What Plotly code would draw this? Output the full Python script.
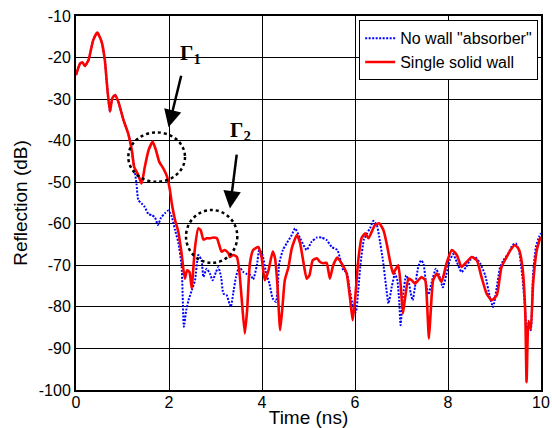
import plotly.graph_objects as go

# Time axis (ns) and reflection (dB) for the single solid wall case
wall_t = [0, 0.09, 0.14, 0.19, 0.27, 0.37, 0.46, 0.55, 0.62, 0.67, 0.73, 0.78, 0.84, 0.91,
          1.02, 1.12, 1.20, 1.25, 1.34, 1.41, 1.48, 1.56, 1.65, 1.72, 1.79, 1.88, 1.96,
          2.02, 2.06, 2.13, 2.20, 2.27, 2.34, 2.39, 2.44, 2.49, 2.52, 2.56, 2.63, 2.68,
          2.74, 2.81, 2.88, 2.95, 3.03, 3.08, 3.13, 3.20, 3.28, 3.31, 3.38, 3.46, 3.51,
          3.56, 3.63, 3.68, 3.74, 3.81, 3.92, 3.99, 4.06, 4.14, 4.23, 4.28, 4.33, 4.39,
          4.44, 4.49, 4.57, 4.64, 4.75, 4.82, 4.89, 4.96, 5.02, 5.09, 5.18, 5.25, 5.32,
          5.39, 5.46, 5.53, 5.62, 5.71, 5.82, 5.89, 5.95, 6.00, 6.07, 6.14, 6.22, 6.29,
          6.36, 6.43, 6.52, 6.61, 6.68, 6.75, 6.82, 6.88, 6.93, 6.98, 7.03, 7.08, 7.15,
          7.22, 7.29, 7.36, 7.43, 7.51, 7.55, 7.59, 7.63, 7.68, 7.76, 7.86, 7.97, 8.08,
          8.19, 8.29, 8.40, 8.51, 8.62, 8.72, 8.83, 8.94, 9.05, 9.15, 9.26, 9.37, 9.44,
          9.53, 9.60, 9.66, 9.69, 9.73, 9.78, 9.83, 9.91, 9.99]
wall_db = [-24.2, -21.4, -21.2, -22.0, -20.6, -15.8, -14.0, -16.2, -20.6, -27.0, -33.0, -29.8,
           -29.0, -30.6, -35.0, -38.2, -42.3, -46.3, -48.3, -50.3, -46.3, -42.3, -40.3, -42.3,
           -45.1, -46.7, -48.7, -51.9, -55.1, -59.1, -61.9, -67.1, -73.2, -71.2, -71.6, -75.6,
           -71.2, -65.6, -61.1, -61.5, -63.8, -63.5, -63.5, -63.3, -63.5, -65.1, -66.7, -66.3,
           -67.1, -68.0, -67.5, -68.0, -71.2, -77.6, -86.4, -80.8, -69.5, -66.3, -65.6, -68.0,
           -73.6, -71.2, -66.7, -68.3, -74.4, -85.6, -80.0, -73.6, -70.4, -65.9, -62.7, -64.7,
           -69.2, -73.2, -72.4, -68.8, -68.3, -69.2, -69.5, -69.4, -73.2, -70.0, -68.1, -69.5,
           -72.0, -77.6, -83.2, -78.4, -68.8, -63.5, -62.3, -63.5, -61.9, -60.3, -59.9, -61.5,
           -64.7, -68.8, -72.0, -70.8, -70.0, -74.4, -81.6, -77.6, -73.2, -73.6, -74.4, -73.6,
           -72.8, -73.6, -79.2, -87.6, -80.8, -73.6, -72.0, -74.0, -69.5, -66.3, -67.5, -70.4,
           -69.2, -68.0, -68.8, -72.8, -76.8, -78.4, -77.2, -70.4, -68.0, -65.9, -65.1, -66.3,
           -70.4, -80.8, -98.1, -83.4, -85.4, -74.4, -66.3, -63.1]

# Reflection without wall (absorber only)
free_t = [0, 0.09, 0.14, 0.19, 0.27, 0.37, 0.46, 0.55, 0.62, 0.67, 0.73, 0.78, 0.84, 0.91,
          1.02, 1.12, 1.20, 1.25, 1.30, 1.34, 1.41, 1.48, 1.56, 1.63, 1.70, 1.76, 1.83,
          1.91, 1.99, 2.06, 2.13, 2.20, 2.27, 2.32, 2.37, 2.42, 2.49, 2.56, 2.63, 2.70,
          2.74, 2.81, 2.88, 2.94, 3.01, 3.06, 3.12, 3.17, 3.24, 3.30, 3.33, 3.38, 3.44,
          3.51, 3.60, 3.68, 3.76, 3.81, 3.89, 3.94, 4.01, 4.09, 4.16, 4.23, 4.30, 4.34,
          4.37, 4.45, 4.53, 4.64, 4.71, 4.82, 4.96, 5.07, 5.18, 5.28, 5.39, 5.50, 5.62,
          5.69, 5.75, 5.82, 5.89, 5.96, 6.02, 6.07, 6.12, 6.19, 6.26, 6.34, 6.39, 6.47,
          6.52, 6.60, 6.67, 6.72, 6.79, 6.86, 6.91, 6.95, 6.98, 7.03, 7.10, 7.15, 7.20,
          7.24, 7.29, 7.36, 7.42, 7.47, 7.53, 7.58, 7.65, 7.74, 7.81, 7.89, 7.96, 8.04,
          8.11, 8.19, 8.29, 8.39, 8.47, 8.58, 8.69, 8.80, 8.90, 8.97, 9.05, 9.12, 9.19,
          9.30, 9.39, 9.46, 9.53, 9.60, 9.66, 9.69, 9.73, 9.78, 9.83, 9.89, 9.96, 10.0]
free_db = [-24.2, -21.4, -21.2, -22.0, -20.6, -15.8, -14.0, -16.2, -20.6, -27.0, -33.0, -29.8,
           -29.0, -30.6, -35.0, -38.2, -42.3, -46.3, -50.3, -54.3, -55.1, -56.0, -57.7, -57.9,
           -58.5, -60.3, -58.5, -57.5, -56.8, -58.3, -61.5, -64.5, -70.0, -84.8, -80.8, -78.4,
           -76.0, -73.6, -67.5, -68.8, -72.8, -70.8, -72.0, -73.6, -71.6, -70.4, -72.8, -76.8,
           -77.2, -79.2, -80.0, -76.8, -72.8, -70.4, -71.6, -72.1, -72.4, -73.4, -70.0, -66.3,
           -67.5, -72.0, -74.4, -78.0, -78.8, -75.2, -69.5, -66.3, -64.7, -62.7, -61.1, -63.5,
           -66.3, -64.3, -63.3, -63.3, -63.9, -65.6, -66.3, -68.8, -71.2, -71.6, -76.0, -80.0,
           -81.2, -76.0, -69.5, -63.9, -62.3, -60.7, -59.3, -60.3, -63.1, -68.8, -75.2, -79.2,
           -75.2, -72.0, -73.6, -78.4, -84.4, -77.6, -72.4, -73.6, -76.8, -78.4, -75.2, -70.4,
           -68.8, -69.5, -74.4, -77.0, -74.0, -70.8, -72.4, -75.3, -72.4, -68.8, -67.3, -69.2,
           -71.6, -70.4, -68.8, -68.0, -69.5, -72.4, -77.6, -80.0, -75.2, -70.4, -68.8, -67.1,
           -65.1, -64.7, -66.7, -72.8, -80.8, -85.2, -84.0, -85.6, -72.0, -65.6, -63.1, -62.3]

x_ticks = [0, 2, 4, 6, 8, 10]
y_ticks = [-10, -20, -30, -40, -50, -60, -70, -80, -90, -100]

font_main = "Liberation Sans, Arial, sans-serif"

fig = go.Figure()
fig.add_trace(go.Scatter(x=free_t, y=free_db, mode="lines", name='No wall "absorber"',
                         line=dict(color="#0000ff", width=2, dash="2px,1.5px",
                                   shape="spline", smoothing=0.5)))
fig.add_trace(go.Scatter(x=wall_t, y=wall_db, mode="lines", name="Single solid wall",
                         line=dict(color="#ff0000", width=2.6,
                                   shape="spline", smoothing=0.5)))

# dotted ellipses marking the two wall echoes
for x0, x1, y0, y1 in [(1.125, 2.344, -49.9, -38.0), (2.366, 3.469, -69.4, -56.7)]:
    fig.add_shape(type="circle", xref="x", yref="y", x0=x0, x1=x1, y0=y0, y1=y1,
                  line=dict(color="black", width=2.5, dash="dot"))

# arrows pointing at the echoes
for tx, ty, hx, hy in [(2.27, -24.0, 1.99, -36.8), (3.46, -43.0, 3.31, -56.3)]:
    fig.add_annotation(x=hx, y=hy, ax=tx, ay=ty, xref="x", yref="y", axref="x", ayref="y",
                       showarrow=True, arrowhead=2, arrowsize=1.4, arrowwidth=2.5,
                       arrowcolor="black", text="")

# Γ labels above the arrows
for label, lx, ly in [("Γ<sub>1</sub>", 2.47, -19.2), ("Γ<sub>2</sub>", 3.54, -37.6)]:
    fig.add_annotation(x=lx, y=ly, xref="x", yref="y", text="<b>" + label + "</b>",
                       showarrow=False,
                       font=dict(family="Liberation Serif, Times New Roman, serif",
                                 size=21, color="black"))

fig.update_layout(
    width=552, height=428,
    margin=dict(l=76, r=11, t=16, b=38),
    paper_bgcolor="white", plot_bgcolor="white",
    font=dict(family=font_main, size=16, color="black"),
    showlegend=True,
    legend=dict(x=0.9935, y=0.989, xanchor="right", yanchor="top",
                bgcolor="white", bordercolor="black", borderwidth=1.2,
                font=dict(size=16), itemwidth=30, tracegroupgap=0),
    xaxis=dict(range=[0, 10], tickvals=x_ticks, ticktext=[str(v) for v in x_ticks],
               showgrid=True, gridcolor="black", automargin=False, ticklabelstandoff=-3,
               gridwidth=1.3, showline=True, linecolor="black", linewidth=2, mirror=True,
               zeroline=False, ticks="", title=dict(text="Time (ns)", standoff=5),
               tickfont=dict(size=16)),
    yaxis=dict(range=[-100, -10], tickvals=y_ticks, ticktext=[str(v) for v in y_ticks],
               showgrid=True, gridcolor="black", automargin=False,
               gridwidth=1.3, showline=True, linecolor="black", linewidth=2, mirror=True,
               zeroline=False, ticks="", title=dict(text="Reflection (dB)", standoff=6),
               tickfont=dict(size=16)),
)

fig.write_html("out.html")
